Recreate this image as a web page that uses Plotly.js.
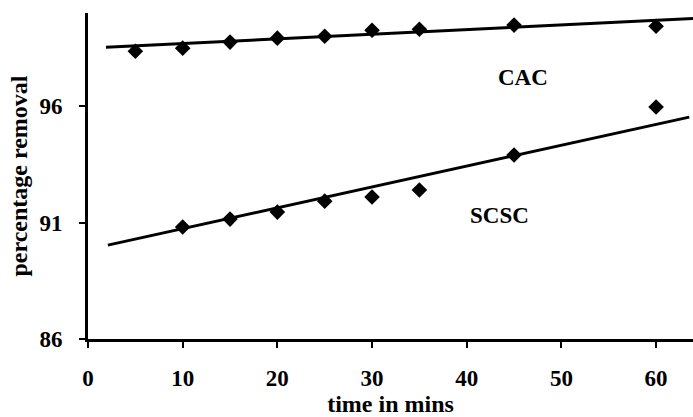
<!DOCTYPE html>
<html>
<head>
<meta charset="utf-8">
<script src="https://cdn.plot.ly/plotly-3.0.1.min.js"></script>
<style>html,body{margin:0;padding:0;background:#fff;}#chart{width:693px;height:417px;}</style>
</head>
<body>
<div id="chart"></div>
<script>
var timeMins = [5, 10, 15, 20, 25, 30, 35, 45, 60];
var cacRemoval = [98.36, 98.49, 98.75, 98.92, 99.0, 99.26, 99.3, 99.48, 99.43];
var scscTime = [10, 15, 20, 25, 30, 35, 45, 60];
var scscRemoval = [90.81, 91.15, 91.45, 91.92, 92.1, 92.4, 93.9, 95.96];
var cacTrendX = [1.9, 63.9];
var cacTrendY = [98.53, 99.76];
var scscTrendX = [2.1, 63.5];
var scscTrendY = [90.03, 95.53];
var xTicks = [0, 10, 20, 30, 40, 50, 60];
var yTicks = [86, 91, 96];
var seriesLabels = ['CAC', 'SCSC'];

var font = 'Liberation Serif, Times New Roman, serif';
var markerStyle = {symbol: 'diamond', size: 12, color: '#000'};
var data = [
  {x: cacTrendX, y: cacTrendY, mode: 'lines', line: {color: '#000', width: 3}, showlegend: false, hoverinfo: 'skip'},
  {x: scscTrendX, y: scscTrendY, mode: 'lines', line: {color: '#000', width: 3}, showlegend: false, hoverinfo: 'skip'},
  {x: timeMins, y: cacRemoval, mode: 'markers', marker: markerStyle, name: seriesLabels[0], showlegend: false},
  {x: scscTime, y: scscRemoval, mode: 'markers', marker: markerStyle, name: seriesLabels[1], showlegend: false}
];
var layout = {
  width: 693, height: 417,
  margin: {l: 88, r: 0, t: 13, b: 78},
  paper_bgcolor: '#fff', plot_bgcolor: '#fff',
  font: {family: font, size: 17, color: '#000'},
  xaxis: {
    range: [0, 63.9], tickvals: xTicks, ticktext: xTicks.map(String),
    showgrid: false, zeroline: false, showline: true, linecolor: '#000', linewidth: 3,
    ticks: 'outside', ticklen: 6, tickwidth: 2, tickcolor: '#000', ticklabelstandoff: 10,
    tickfont: {family: font, size: 23, color: '#000', weight: 'bold'},
    title: {text: 'time in mins', font: {family: font, size: 24, color: '#000', weight: 'bold'}, standoff: 2}
  },
  yaxis: {
    range: [86, 100], tickvals: yTicks, ticktext: yTicks.map(String),
    showgrid: false, zeroline: false, showline: true, linecolor: '#000', linewidth: 3,
    ticks: 'outside', ticklen: 6, tickwidth: 2, tickcolor: '#000', ticklabelstandoff: 12,
    tickfont: {family: font, size: 23, color: '#000', weight: 'bold'},
    title: {text: 'percentage removal', font: {family: font, size: 24, color: '#000', weight: 'bold'}, standoff: 6}
  },
  annotations: [
    {x: 45.9, y: 97.24, xref: 'x', yref: 'y', text: seriesLabels[0], showarrow: false, font: {family: font, size: 23, color: '#000', weight: 'bold'}},
    {x: 43.5, y: 91.3, xref: 'x', yref: 'y', text: seriesLabels[1], showarrow: false, font: {family: font, size: 23, color: '#000', weight: 'bold'}}
  ]
};
Plotly.newPlot('chart', data, layout, {displayModeBar: false, staticPlot: true});
</script>
</body>
</html>
